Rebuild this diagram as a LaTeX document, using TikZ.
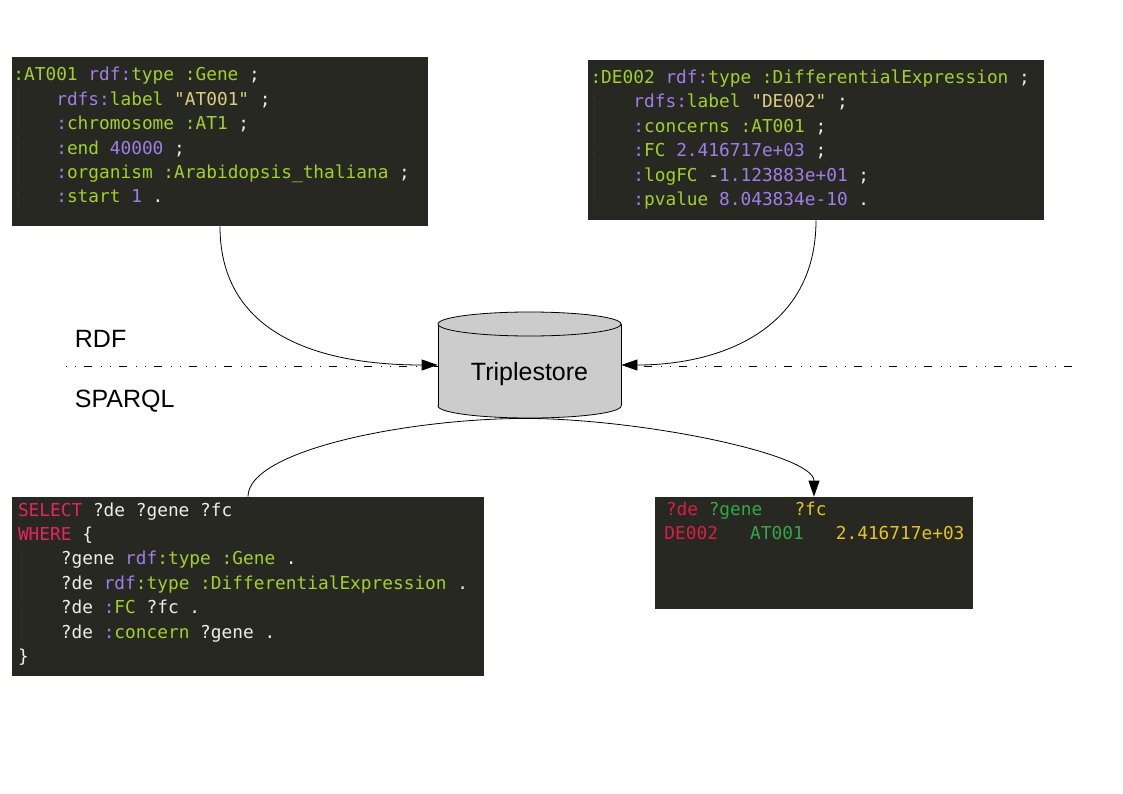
\documentclass[tikz,border=0pt]{standalone}
\usepackage{fontspec}
\setmainfont{Liberation Sans}
\setmonofont{DejaVu Sans Mono}
\usetikzlibrary{arrows.meta}
\definecolor{codebg}{HTML}{272822}
\definecolor{cgreen}{HTML}{A2D02E}
\definecolor{cpurple}{HTML}{A07EE8}
\definecolor{cstring}{HTML}{DCCC82}
\definecolor{cwhite}{HTML}{EEEEE8}
\definecolor{ckey}{HTML}{E8245F}
\definecolor{rred}{HTML}{DC1E46}
\definecolor{rgreen}{HTML}{32A848}
\definecolor{ryellow}{HTML}{E6C31E}
\definecolor{cylgray}{HTML}{CCCCCC}
\definecolor{guide}{HTML}{3A3B34}
\newcommand\kgreen[1]{\textcolor{cgreen}{#1}}
\newcommand\kpurp[1]{\textcolor{cpurple}{#1}}
\newcommand\kstr[1]{\textcolor{cstring}{#1}}
\newcommand\kkey[1]{\textcolor{ckey}{#1}}
\newcommand\kred[1]{\textcolor{rred}{#1}}
\newcommand\kgrn[1]{\textcolor{rgreen}{#1}}
\newcommand\kyel[1]{\textcolor{ryellow}{#1}}
\frenchspacing
\begin{document}
\begin{tikzpicture}[x=1pt,y=-1pt,line width=0.8pt,
  codebox/.style={fill=codebg,draw=none,inner sep=0pt},
  codeline/.style={anchor=base west,inner sep=0pt,text=cwhite,
    font=\ttfamily\fontsize{17.8}{24.4}\selectfont},
  guideline/.style={draw=guide,line width=0.8pt,dotted},
  sepline/.style={draw=black,line width=0.8pt,
    dash pattern=on 1pt off 8pt on 1pt off 8pt on 8pt off 9pt},
  conn/.style={draw=black,line width=0.8pt,-{Triangle[length=16pt,width=11pt]}},
  plainconn/.style={draw=black,line width=0.8pt},
  label/.style={anchor=base west,inner sep=0pt,font=\fontsize{25}{30}\selectfont}]
\useasboundingbox (0,0) rectangle (1123,794);

% separator line
\coordinate (sepL) at (66,366.5);
\coordinate (sepR) at (1075,366.5);
\draw[sepline] (sepL) -- (sepR);

% labels
\node[label] (rdf) at (74.5,347.3) {RDF};
\node[label] (sparql) at (74.5,407.3) {SPARQL};

% code boxes
\node[codebox,minimum width=416,minimum height=169] (b1) at (220,141.5) {};
\node[codebox,minimum width=456,minimum height=160] (b2) at (816,140) {};
\node[codebox,minimum width=472,minimum height=179] (b3) at (248,586.5) {};
\node[codebox,minimum width=318,minimum height=112] (b4) at (814,553) {};

% indentation guides
\draw[guideline] (18,88) -- (18,210);
\draw[guideline] (594,90) -- (594,212);
\draw[guideline] (21,546) -- (21,645);

% box 1
\node[codeline] (b1l1) at (13,81) {\kgreen{:AT001} \kpurp{rdf:}\kgreen{type} \kgreen{:Gene} ;};
\node[codeline] (b1l2) at (55.9,105.4) {\kpurp{rdfs:}\kgreen{label} \kstr{"AT001"} ;};
\node[codeline] (b1l3) at (55.9,129.8) {\kpurp{:}\kgreen{chromosome} \kgreen{:AT1} ;};
\node[codeline] (b1l4) at (55.9,154.2) {\kpurp{:}\kgreen{end} \kpurp{40000} ;};
\node[codeline] (b1l5) at (55.9,178.6) {\kpurp{:}\kgreen{organism} \kgreen{:Arabidopsis\_thaliana} ;};
\node[codeline] (b1l6) at (55.9,203) {\kpurp{:}\kgreen{start} \kpurp{1} .};

% box 2
\node[codeline] (b2l1) at (590.1,83.5) {\kgreen{:DE002} \kpurp{rdf:}\kgreen{type} \kgreen{:DifferentialExpression} ;};
\node[codeline] (b2l2) at (633,107.9) {\kpurp{rdfs:}\kgreen{label} \kstr{"DE002"} ;};
\node[codeline] (b2l3) at (633,132.3) {\kpurp{:}\kgreen{concerns} \kgreen{:AT001} ;};
\node[codeline] (b2l4) at (633,156.7) {\kpurp{:}\kgreen{FC} \kpurp{2.416717e+03} ;};
\node[codeline] (b2l5) at (633,181.1) {\kpurp{:}\kgreen{logFC} -\kpurp{1.123883e+01} ;};
\node[codeline] (b2l6) at (633,205.5) {\kpurp{:}\kgreen{pvalue} \kpurp{8.043834e-10} .};

% box 3
\node[codeline] (b3l1) at (17.6,516) {\kkey{SELECT} ?de ?gene ?fc};
\node[codeline] (b3l2) at (17.6,540.4) {\kkey{WHERE} \{};
\node[codeline] (b3l3) at (60.5,564.8) {?gene \kpurp{rdf}\kgreen{:type} \kgreen{:Gene} .};
\node[codeline] (b3l4) at (60.5,589.2) {?de \kpurp{rdf}\kgreen{:type} \kgreen{:DifferentialExpression} .};
\node[codeline] (b3l5) at (60.5,613.6) {?de \kpurp{:}\kgreen{FC} ?fc .};
\node[codeline] (b3l6) at (60.5,638) {?de \kpurp{:}\kgreen{concern} ?gene .};
\node[codeline] (b3l7) at (17.6,662.4) {\}};

% box 4
\node[codeline] (b4l1) at (665.5,515) {\kred{?de} \kgrn{?gene}~~~\kyel{?fc}};
\node[codeline] (b4l2) at (664,539.4) {\kred{DE002}~~~\kgrn{AT001}~~~\kyel{2.416717e+03}};

% triplestore cylinder
\filldraw[fill=cylgray,draw=black] (529.5,406) ellipse [x radius=91.5,y radius=12];
\fill[cylgray] (438,324) rectangle (621,406);
\draw (438,324) -- (438,406) (621,324) -- (621,406);
\filldraw[fill=cylgray,draw=black] (529.5,324) ellipse [x radius=91.5,y radius=12];
\node[inner sep=0pt,minimum width=183,minimum height=106] (ts) at (529.5,365) {};
\node[anchor=base,inner sep=0pt,font=\fontsize{25}{30}\selectfont] (tslabel) at (529.5,380) {Triplestore};

% connectors
\draw[conn] (b1.south) .. controls (220,335) and (320,365) .. (ts.west);
\draw[conn] (b2.south) .. controls (816,330) and (720,365) .. (ts.east);
\draw[plainconn] (b3.north) .. controls (248,450) and (410,418) .. (ts.south);
\draw[conn] (ts.south) .. controls (650,420) and (814,455) .. (b4.north);
\end{tikzpicture}
\end{document}
